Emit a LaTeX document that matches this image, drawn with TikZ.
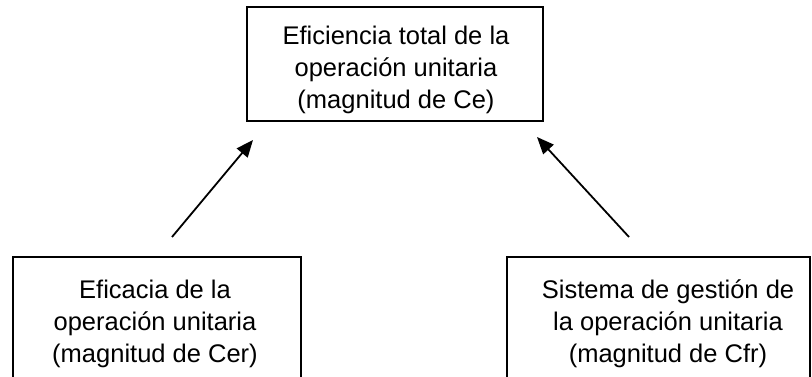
\documentclass[tikz,border=0pt]{standalone}
\usepackage{fontspec}
\setmainfont{Liberation Sans}
\usetikzlibrary{arrows.meta}
\begin{document}
\begin{tikzpicture}[x=1pt,y=-1pt,
  box/.style={draw=black, line width=1.8pt, rectangle, inner sep=0pt},
  txt/.style={align=center, inner sep=0pt, font=\fontsize{25.5}{32}\selectfont},
  arr/.style={line width=1.8pt, -{Triangle[length=17pt,width=14pt]}}]
\useasboundingbox (0,0) rectangle (812,377);
\fill[white] (0,0) rectangle (812,377);
\node[box, minimum width=296pt, minimum height=114pt] (top) at (395,64) {};
\node[box, minimum width=288pt, minimum height=160pt] (left) at (157,337) {};
\node[box, minimum width=303pt, minimum height=160pt] (right) at (658.5,337) {};
\node[txt, anchor=base] (toptxt) at (396,108.5) {Eficiencia total de la\\operación unitaria\\(magnitud de Ce)};
\node[txt, anchor=base] (lefttxt) at (155,362.5) {Eficacia de la\\operación unitaria\\(magnitud de Cer)};
\node[txt, anchor=base] (righttxt) at (668,362.5) {Sistema de gestión de\\la operación unitaria\\(magnitud de Cfr)};
\coordinate (la) at (172,237);
\coordinate (lb) at (253,140);
\coordinate (ra) at (629,237);
\coordinate (rb) at (537,137);
\draw[arr] (la) -- (lb);
\draw[arr] (ra) -- (rb);
\end{tikzpicture}
\end{document}
